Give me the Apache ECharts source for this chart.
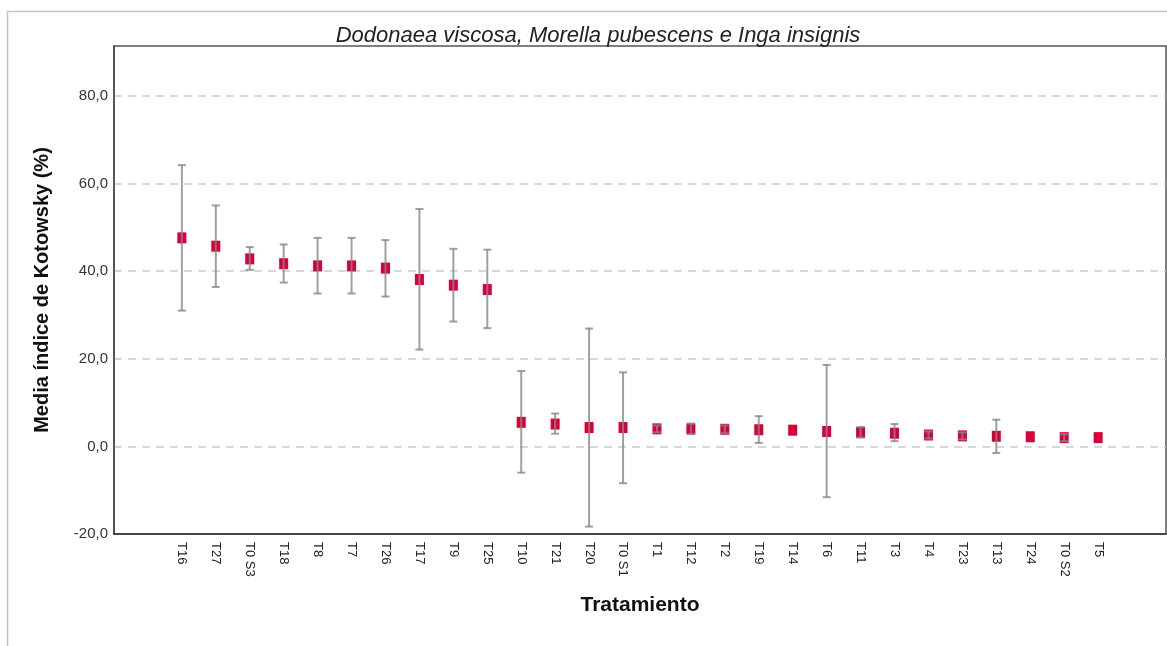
<!DOCTYPE html>
<html>
<head>
<meta charset="utf-8">
<script src="https://cdn.jsdelivr.net/npm/echarts@6/dist/echarts.min.js"></script>
<style>
  html, body { margin: 0; padding: 0; background: #fff; }
  #main { width: 1167px; height: 646px; }
</style>
</head>
<body>
<div id="main"></div>
<script>
// tratamientos, ordenados por media
var categories = ['T16','T27','T0 S3','T18','T8','T7','T26','T17','T9','T25',
  'T10','T21','T20','T0 S1','T1','T12','T2','T19','T14','T6',
  'T11','T3','T4','T23','T13','T24','T0 S2','T5'];
var means = [47.6, 45.7, 42.8, 41.7, 41.2, 41.2, 40.7, 38.1, 36.8, 35.8,
  5.5, 5.1, 4.3, 4.3, 4.0, 4.0, 3.9, 3.8, 3.7, 3.4,
  3.2, 3.0, 2.6, 2.4, 2.3, 2.2, 2.0, 2.0];
// intervalo de error (null = sin barra)
var lower = [31.0, 36.4, 40.3, 37.4, 34.9, 34.9, 34.2, 22.1, 28.5, 27.0,
  -6.0, 2.9, -18.3, -8.4, 3.2, 2.8, 3.0, 0.8, null, -11.6,
  2.0, 1.2, 1.8, 1.6, -1.5, null, 1.2, null];
var upper = [64.2, 55.0, 45.5, 46.1, 47.6, 47.6, 47.1, 54.2, 45.1, 44.9,
  17.2, 7.5, 26.9, 16.9, 4.8, 5.2, 4.8, 6.9, null, 18.6,
  4.4, 5.1, 3.4, 3.2, 6.1, null, 2.8, null];
var yTicks = [-20, 0, 20, 40, 60, 80];

var font = 'Liberation Sans, Arial, sans-serif';

var pointData = [];
var errData = [];
for (var i = 0; i < categories.length; i++) {
  pointData.push([i, means[i]]);
  if (lower[i] != null) errData.push([i, lower[i], upper[i]]);
}

var myChart = echarts.init(document.getElementById('main'));
var option = {
  backgroundColor: '#fff',
  animation: false,
  graphic: [{
    type: 'rect',
    shape: { x: 7.5, y: 11.5, width: 1200, height: 700 },
    style: { fill: 'none', stroke: '#c4c4c4', lineWidth: 1.5 },
    silent: true
  }],
  title: {
    text: 'Dodonaea viscosa, Morella pubescens e Inga insignis',
    left: 593,
    textAlign: 'center',
    top: 20,
    textStyle: { fontFamily: font, fontStyle: 'italic', fontWeight: 'normal', fontSize: 22, color: '#222' }
  },
  grid: { left: 114, right: 1, top: 46, bottom: 112, show: true, borderColor: '#555', borderWidth: 1.5 },
  xAxis: {
    type: 'value',
    min: -2,
    max: categories.length + 1,
    interval: 1,
    name: 'Tratamiento',
    nameLocation: 'middle',
    nameGap: 61,
    nameTextStyle: { fontFamily: font, fontWeight: 'bold', fontSize: 21, color: '#111' },
    axisLine: { onZero: false, lineStyle: { color: '#333', width: 1.5 } },
    axisTick: { show: false },
    splitLine: { show: false },
    axisLabel: {
      rotate: -90,
      margin: 8,
      fontFamily: font,
      fontSize: 13,
      color: '#222',
      formatter: function (v) { return categories[v] || ''; }
    }
  },
  yAxis: {
    type: 'value',
    min: -20,
    max: 91.4,
    interval: 20,
    name: 'Media índice de Kotowsky (%)',
    nameLocation: 'middle',
    nameGap: 62,
    nameTextStyle: { fontFamily: font, fontWeight: 'bold', fontSize: 20, color: '#111' },
    axisLine: { show: true, onZero: false, lineStyle: { color: '#444', width: 1.5 } },
    axisTick: { show: false },
    axisLabel: {
      margin: 6,
      fontFamily: font,
      fontSize: 15,
      color: '#333',
      showMaxLabel: false,
      formatter: function (v) {
        return yTicks.indexOf(v) >= 0 ? v.toFixed(1).replace('.', ',') : '';
      }
    },
    splitLine: {
      showMinLine: false,
      showMaxLine: false,
      lineStyle: { color: '#cacaca', type: [8, 6], width: 1.5 }
    }
  },
  series: [
    {
      type: 'scatter',
      data: pointData,
      symbol: 'rect',
      symbolSize: [9, 11],
      itemStyle: { color: '#d8003a', opacity: 1 },
      z: 2
    },
    {
      type: 'custom',
      data: errData,
      z: 3,
      renderItem: function (params, api) {
        var x = api.value(0);
        var lo = api.coord([x, api.value(1)]);
        var hi = api.coord([x, api.value(2)]);
        var cap = 4;
        var st = { stroke: 'rgba(135,135,135,0.8)', lineWidth: 2 };
        return {
          type: 'group',
          children: [
            { type: 'line', shape: { x1: hi[0], y1: hi[1], x2: lo[0], y2: lo[1] }, style: st },
            { type: 'line', shape: { x1: hi[0] - cap, y1: hi[1], x2: hi[0] + cap, y2: hi[1] }, style: st },
            { type: 'line', shape: { x1: lo[0] - cap, y1: lo[1], x2: lo[0] + cap, y2: lo[1] }, style: st }
          ]
        };
      }
    }
  ]
};
myChart.setOption(option);
</script>
</body>
</html>
